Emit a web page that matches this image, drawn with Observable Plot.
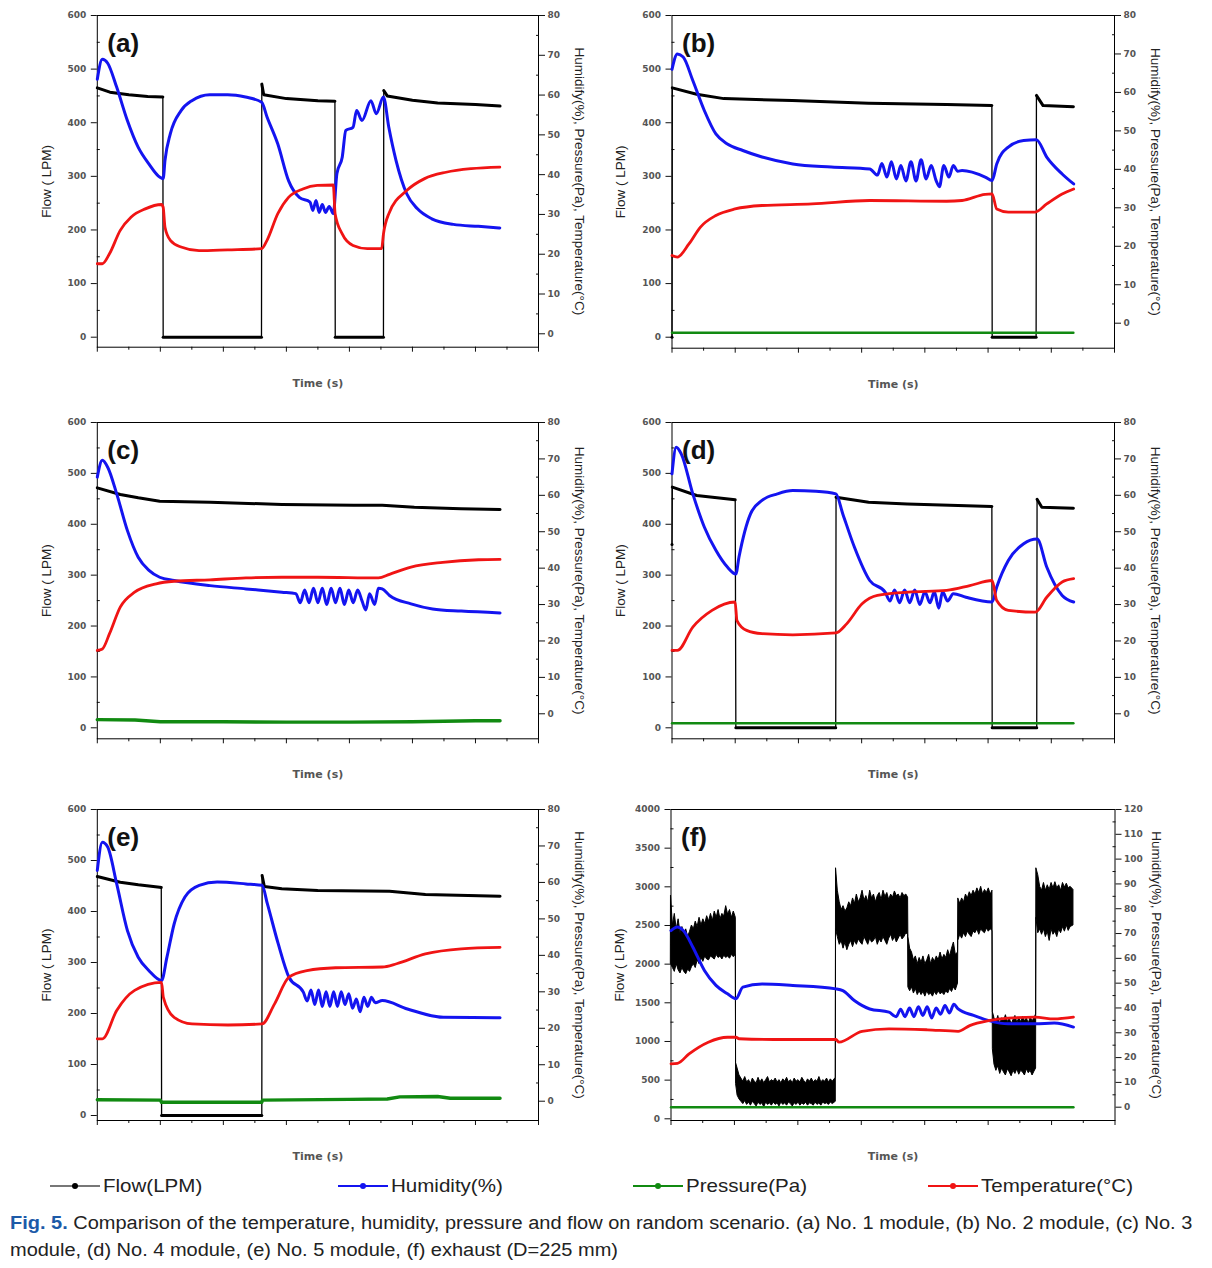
<!DOCTYPE html>
<html><head><meta charset="utf-8">
<script src="https://cdn.jsdelivr.net/npm/d3@7"></script>
<script src="https://cdn.jsdelivr.net/npm/@observablehq/plot@0.6"></script>
<style>
body{margin:0;background:#fff;}
#page{position:relative;width:1212px;height:1268px;font-family:"Liberation Sans",Arial,sans-serif;overflow:hidden;}
.panel{position:absolute;}
.panel svg{position:absolute;left:0;top:0;}
#legend{position:absolute;top:1174px;left:0;width:1212px;height:24px;}
.item{position:absolute;top:0;height:24px;display:flex;align-items:center;font-size:18.5px;color:#222;}
.item span{display:inline-block;transform:scaleX(1.11);transform-origin:left center;}
.sw{position:relative;width:50px;height:2px;margin-right:3px;}
.sw i{position:absolute;left:22px;top:-2px;width:6px;height:6px;border-radius:50%;}
#caption{position:absolute;left:10px;top:1210px;font-size:18px;line-height:27px;color:#222;white-space:nowrap;transform:scaleX(1.11);transform-origin:left top;}
#caption b{color:#1c5aa8;font-weight:bold;}
</style></head>
<body><div id="page"></div>
<script>
// ---------- tick labels ----------
const timeTicks = [0,100,200,300,400,500,600,700];
const flowTicks = [0,100,200,300,400,500,600];
const flowTicksF = [0,500,1000,1500,2000,2500,3000,3500,4000];
const rightTicks = [0,10,20,30,40,50,60,70,80];
const rightTicksF = [0,10,20,30,40,50,60,70,80,90,100,110,120];
const panelLetters = ["(a)","(b)","(c)","(d)","(e)","(f)"];
const seriesNames = ["Flow(LPM)","Humidity(%)","Pressure(Pa)","Temperature(°C)"];
const leftTitle = "Flow ( LPM)";
const rightTitle = "Humidify(%), Pressure(Pa), Temperature(°C)";
const xTitle = "Time (s)";

// ---------- (a) ----------
const aFlow = [[0,465],[20,457],[50,452],[80,449],[104,448],[104.5,0],[260.5,0],[261,472],[264,452],[300,445],[350,441],[377,440],[377.5,0],[454,0],[454.5,460],[460,450],[500,442],[540,437],[600,434],[639,431]];
const aHum = [[0,64],[8,69],[16.5,68],[30.7,62],[47.7,53.6],[64.8,46.9],[81.8,42.7],[98.9,39.4],[104.5,39],[107.4,43.6],[115.9,50.3],[132.9,56.1],[150,58.6],[178.4,60.1],[206.8,60.1],[235.2,59.5],[260.8,58.2],[269.3,54.5],[286.4,47.7],[303.4,38.5],[320.5,34.3],[337.5,33.1],[342,31],[347,33.5],[352,30.5],[357,32.5],[362,30.5],[368,32],[374.4,30.2],[380.1,40.2],[388.6,44.4],[394.3,51.1],[405.7,51.9],[411.4,56.1],[419.9,53.6],[434.1,58.6],[442.6,55.3],[454,59.5],[462.5,51.9],[473.9,43.6],[490.9,35.2],[508,31.4],[530.7,28.9],[564.8,27.5],[604.5,27],[638.6,26.6]];
const aTemp = [[0,17.6],[8,17.6],[19.3,20.1],[36.4,26],[53.4,29.3],[76.1,31.4],[101.7,32.5],[104.5,31.8],[107.4,26.8],[115.9,23.5],[132.9,21.8],[161.4,20.9],[206.8,21.1],[260.8,21.4],[269.3,23.5],[286.4,30.2],[303.4,34.3],[326.1,36.4],[348.9,37.3],[374.4,37.4],[377.3,30.2],[388.6,25.1],[405.7,22.2],[428.4,21.4],[451.1,21.4],[454,25.1],[462.5,30.2],[490.9,36],[519.3,39],[553.4,40.6],[593.2,41.5],[638.6,41.9]];
const aPres = [];

// ---------- (b) ----------
const bFlow = [[0,0],[0.5,465],[39,453],[82,445],[190,441.5],[311,436.5],[434,434],[506,432],[506.5,0],[576,0],[576.5,451],[587,432],[635,430]];
const bHum = [[0,66],[8.5,70],[17.7,69.2],[32.9,63.1],[51.1,55.3],[69.4,49.2],[87.6,46.6],[112,44.9],[142.4,43.2],[191.1,41.4],[252,40.6],[312.8,40.1],[325,38.5],[332,41.5],[340,38],[347,42],[355,37.5],[362,41],[370,37],[378,42],[386,37],[394,42.5],[402,37.5],[410,41],[418,37],[423,35.5],[430,41],[438,38],[445,41],[452,39.5],[458.9,39.7],[495.4,38],[506.4,37.1],[513.7,41.4],[532,45.8],[556.3,47.5],[576.4,47.7],[592.8,43.2],[617.2,38.8],[635.4,36.2]];
const bTemp = [[0,17.6],[8.5,17.2],[26.8,20.6],[45,25],[69.4,28],[99.8,29.7],[142.4,30.6],[221.5,31],[312.8,31.9],[434.5,31.7],[458.9,31.9],[495.4,33.5],[506.4,33.6],[513.7,29.7],[532,28.9],[574.6,28.9],[592.8,31],[617.2,33.6],[635.4,34.9]];
const bPres = [[0,-2.5],[635,-2.5]];

// ---------- (c) ----------
const cFlow = [[0,471.6],[36.4,458.5],[65,452],[99,445.4],[179,443.4],[293,438.9],[407,437.5],[452,437.5],[503,433.6],[577,430.3],[639,429]];
const cHum = [[0,65],[8,69.6],[16.5,67.7],[30.8,60.4],[47.8,50.3],[64.9,43],[82,39.4],[99,37.5],[121.9,36.6],[178.8,35.2],[235.8,34.3],[292.7,33.4],[315,33],[322,30.5],[329,34],[336,30.5],[343,34.5],[350,30.5],[357,34.5],[364,30],[371,34.5],[378,30.5],[385,34.5],[392,30],[399,34],[406,30.5],[413,34],[420,31],[426,28.5],[432,33],[440,30],[446,34.5],[452,34.3],[463.6,32.5],[497.7,30.2],[531.9,28.8],[577.4,28.2],[639,27.7]];
const cTemp = [[0,17.4],[8,17.8],[19.4,22],[36.4,29.3],[59.2,33.4],[93.5,35.7],[121.9,36.4],[178.8,36.8],[235.8,37.3],[292.7,37.5],[349.7,37.5],[446.2,37.3],[463.6,38.3],[497.7,40.3],[548.1,41.6],[605,42.3],[639,42.4]];
const cPres = [[0,-1.6],[60,-1.7],[100,-2.2],[200,-2.2],[300,-2.3],[400,-2.3],[500,-2.2],[600,-1.9],[639,-1.9]];

// ---------- (d) ----------
const dFlow = [[0,360],[0.5,473],[39,456.5],[100,448],[101,0],[259,0],[259.5,453],[311,443.4],[372,440],[506,435],[506.5,0],[577,0],[577.5,449],[585,433.6],[635,431.6]];
const dHum = [[0,65.9],[6.7,73.2],[14.6,71.4],[32.9,60.4],[51.1,51.3],[69.4,44.9],[87.6,40.3],[101,38.4],[105.9,43],[124.2,54.9],[142.4,58.6],[166.8,60.4],[191.1,61.3],[227.6,61.1],[259.3,60.4],[270.2,54.9],[288.5,45.8],[312.8,36.6],[337.2,33.4],[345,31],[352,34],[360,30.5],[368,34],[376,30.5],[384,34],[392,30],[400,33.5],[408,30.5],[415,33.5],[422,29],[428,33.5],[436,31],[445,33],[465,32],[506.4,30.7],[513.7,34.8],[532,42.1],[556.3,46.7],[577.6,48],[592.8,40.3],[617.2,32.5],[635.4,30.7]];
const dTemp = [[0,17.4],[8.5,17.4],[32.9,23.8],[63.3,28.4],[99.8,30.7],[102.8,25.6],[118,22.9],[142.4,22],[191.1,21.7],[259.3,22.2],[276.3,24.7],[300.7,30.2],[325,32.5],[373.7,33.4],[434.6,33.9],[471.1,35.2],[506.4,36.6],[513.7,31.1],[532,28.4],[574.6,27.9],[592.8,32],[617.2,36.2],[635.4,37.1]];
const dPres = [[0,-2.6],[635,-2.6]];

// ---------- (e) ----------
const eFlow = [[0,468.6],[36.4,457.5],[65,452.3],[99,447.7],[101.5,447],[102,0],[261,0],[261.5,470.6],[265,449],[292.7,444.4],[349.7,441.2],[463.6,439.9],[520.5,433.3],[639,430]];
const eHum = [[0,63.3],[8,71],[16.5,69.7],[30.8,59.6],[47.8,46.8],[64.9,39.5],[82,35.8],[101.9,33.1],[110.5,39.5],[121.9,48.6],[139,56],[161.7,59.2],[190.2,60.1],[235.8,59.6],[261.4,59.2],[269.9,54.1],[287,43.2],[304.1,34],[326.9,29.9],[333,27.5],[339,30.5],[345,26.5],[351,30.5],[357,26],[363,30],[369,26],[375,30],[381,26],[387,30],[393,26.5],[399,29.5],[405,25.5],[411,28],[417,24.5],[423,28.5],[429,26],[435,28.5],[441,27],[452.2,27.6],[492,25.3],[549,23],[639,22.9]];
const eTemp = [[0,17.1],[8,17.1],[30.8,24.9],[59.2,30.4],[101.9,32.6],[104.8,28.5],[121.9,23],[150.3,21.2],[207.3,20.9],[261.4,21.2],[281.3,26.7],[304.1,34],[332.6,35.8],[378.1,36.6],[452.2,36.8],[474.9,37.7],[520.5,40.4],[577.4,41.8],[639,42.2]];
const ePres = [[0,0.4],[100,0.3],[102,-0.3],[261,-0.3],[262,0.3],[400,0.5],[460,0.6],[480,1.2],[540,1.3],[560,0.8],[639,0.8]];

// ---------- (f) exhaust: flow band [t, low, high] ----------
const fFlowBand = [
  [0,2000,2880],[3,1950,2500],[6,1900,2650],[9,2000,2450],[12,1920,2580],[15,1880,2400],[18,1950,2480],[21,1900,2380],[24,1870,2450],[27,1930,2350],[30,1900,2420],[33,1960,2500],[36,2000,2450],[39,1950,2550],[42,2050,2480],[45,2000,2600],[48,2080,2500],[51,2030,2580],[54,2100,2520],[57,2060,2620],[60,2050,2550],[63,2100,2650],[66,2080,2560],[69,2060,2680],[72,2120,2600],[75,2080,2700],[78,2100,2580],[81,2060,2650],[84,2110,2620],[87,2080,2750],[90,2100,2640],[93,2070,2700],[96,2120,2600],[99,2090,2680],[102.2,2120,2600],
  [102.6,450,720],[105,300,650],[108,250,560],[111,220,520],[114,190,480],[117,230,540],[120,180,470],[123,210,500],[126,170,450],[129,220,520],[132,190,480],[135,160,460],[138,210,530],[141,180,470],[144,200,510],[147,150,460],[150,210,500],[153,180,540],[156,200,470],[159,170,500],[162,210,480],[165,180,520],[168,200,470],[171,160,500],[174,210,460],[177,180,510],[180,200,480],[183,170,530],[186,210,470],[189,190,500],[192,160,460],[195,200,520],[198,180,480],[201,210,500],[204,170,470],[207,200,530],[210,180,490],[213,210,460],[216,170,510],[219,200,480],[222,190,520],[225,170,470],[228,210,500],[231,180,480],[234,200,540],[237,170,470],[240,210,500],[243,190,480],[246,200,520],[249,180,470],[252,210,510],[255,190,480],[259.8,220,530],
  [260.2,2450,3240],[263,2350,2950],[266,2250,2800],[269,2300,2700],[272,2200,2750],[275,2280,2680],[278,2180,2720],[281,2250,2800],[284,2300,2750],[287,2220,2850],[290,2300,2780],[293,2250,2900],[296,2320,2800],[299,2280,2850],[302,2250,2950],[305,2350,2820],[308,2300,2880],[311,2250,2800],[314,2330,2950],[317,2280,2850],[320,2300,2900],[323,2350,2800],[326,2250,2880],[329,2320,2920],[332,2280,2830],[335,2350,2950],[338,2300,2870],[341,2250,2920],[344,2330,2830],[347,2380,2900],[350,2300,2860],[353,2350,2940],[356,2280,2880],[359,2330,2900],[362,2380,2850],[365,2320,2920],[368,2350,2880],[371,2400,2900],[373.8,2380,2860],
  [374.2,1700,2350],[377,1650,2200],[380,1700,2150],[383,1620,2050],[386,1680,2100],[389,1600,2000],[392,1650,2080],[395,1600,2020],[398,1640,2100],[401,1580,2000],[404,1650,2050],[407,1600,2120],[410,1620,2000],[413,1580,2080],[416,1640,2030],[419,1600,2100],[422,1650,2050],[425,1610,2150],[428,1630,2060],[431,1600,2120],[434,1650,2080],[437,1620,2180],[440,1680,2100],[443,1640,2200],[446,1700,2280],[449,1660,2120],[452.5,1750,2150],
  [452.9,2300,2850],[456,2380,2780],[459,2330,2850],[462,2400,2800],[465,2350,2900],[468,2420,2850],[471,2380,2930],[474,2350,2880],[477,2420,2950],[480,2400,2900],[483,2450,2980],[486,2380,2920],[489,2450,3000],[492,2420,2900],[495,2400,2960],[498,2460,2920],[501,2420,2980],[504,2450,2900],[506.8,2430,2950],
  [507.4,900,1380],[510,700,1300],[513,620,1250],[516,680,1330],[519,580,1220],[522,650,1300],[525,600,1260],[528,560,1340],[531,640,1250],[534,600,1300],[537,550,1220],[540,620,1280],[543,580,1330],[546,640,1240],[549,570,1300],[552,620,1250],[555,600,1320],[558,560,1260],[561,640,1300],[564,590,1230],[567,620,1310],[570,560,1260],[573,610,1300],[575.6,650,1350],
  [576,2600,3240],[579,2400,3150],[582,2450,3000],[585,2380,2950],[588,2450,3050],[591,2350,2950],[594,2420,3020],[597,2300,2960],[600,2450,3050],[603,2380,2980],[606,2420,3060],[609,2350,2980],[612,2450,3020],[615,2400,2950],[618,2480,3050],[621,2420,2990],[624,2500,3040],[627,2430,2980],[630,2480,3000],[634.5,2500,2960]];
const fHum = [[0,71.2],[10.3,72.6],[19.4,71.2],[34.5,64.5],[52.7,55.1],[70.9,49.1],[89.1,45.7],[102.4,43.7],[113.3,48.4],[143.6,49.7],[192.1,49.1],[260,47.7],[270.9,47],[289,43],[313.3,39.6],[343.6,38.3],[355,36.5],[362,39.5],[369,36.5],[376,40],[383,36.5],[390,40.5],[397,37],[404,40.5],[411,36],[418,40],[425,37.5],[432,41],[439,38],[446,41.5],[452.7,39.6],[477,37],[501.2,34.9],[531.5,33.6],[573.9,33.6],[604.2,33.9],[634.5,32.3]];
const fTemp = [[0,17.5],[10.3,17.7],[28.5,21.5],[58.8,26.2],[89.1,28.2],[102.4,28.2],[107.3,27.6],[161.8,27.3],[260,27.3],[264.8,26.2],[301.2,30.6],[343.6,31.6],[404.2,31.2],[452.7,30.6],[470.9,32.9],[501.2,34.9],[531.5,35.9],[573.9,36.3],[604.2,35.6],[634.5,36.3]];
const fPres = [[0,0],[634.5,0]];

// ---------- styling ----------
const COL = {flow:"#000000", hum:"#1414f0", pres:"#118a11", temp:"#f01414"};
const minorOf = (ticks) => ticks.slice(0,-1).map((v,i)=>(v+ticks[i+1])/2);
const plain = d => String(d);
const tickText = {fill:"#555", fontWeight:"bold"};

const panels = [
  {left:0,   top:0,   width:600, height:400, mL:96.8, mR:62,  mT:15, mB:53.3, yL:[-18.65,600], yR:[-3.37,80], lt:flowTicks, rt:rightTicks, flow:aFlow, hum:aHum, temp:aTemp, pres:aPres},
  {left:600, top:0,   width:612, height:400, mL:71.5, mR:98,  mT:15, mB:52.3, yL:[-20.5,600],  yR:[-6.5,80],  lt:flowTicks, rt:rightTicks, flow:bFlow, hum:bHum, temp:bTemp, pres:bPres},
  {left:0,   top:400, width:600, height:390, mL:96.8, mR:62,  mT:22, mB:51.7, yL:[-21.6,600],  yR:[-6.87,80], lt:flowTicks, rt:rightTicks, flow:cFlow, hum:cHum, temp:cTemp, pres:cPres, presW:3.4},
  {left:600, top:400, width:612, height:390, mL:71.5, mR:98,  mT:22, mB:51.7, yL:[-21.6,600],  yR:[-6.87,80], lt:flowTicks, rt:rightTicks, flow:dFlow, hum:dHum, temp:dTemp, pres:dPres},
  {left:0,   top:790, width:600, height:375, mL:96.8, mR:62,  mT:19, mB:45,   yL:[-9.8,600],   yR:[-5.29,80], lt:flowTicks, rt:rightTicks, flow:eFlow, hum:eHum, temp:eTemp, pres:ePres, presW:3.4},
  {left:600, top:790, width:612, height:375, mL:70.5, mR:97.5,mT:19, mB:45,   yL:[-22,4000],   yR:[-5.36,120],lt:flowTicksF, rt:rightTicksF, band:fFlowBand, hum:fHum, temp:fTemp, pres:fPres}
];

function withSegments(arr){
  let s = 0;
  return arr.map((d,i)=>{ if(i>0 && Math.abs(d[1]-arr[i-1][1])>100) s++; return {t:d[0], v:d[1], s}; });
}

const page = document.getElementById("page");
panels.forEach((cfg, k) => {
  const div = document.createElement("div");
  div.className = "panel";
  Object.assign(div.style, {left:cfg.left+"px", top:cfg.top+"px", width:cfg.width+"px", height:cfg.height+"px"});
  const common = {
    width: cfg.width, height: cfg.height,
    marginLeft: cfg.mL, marginRight: cfg.mR, marginTop: cfg.mT, marginBottom: cfg.mB,
    style: {background:"transparent", fontFamily:"DejaVu Sans, sans-serif", fontSize:"9px", color:"#111", overflow:"visible"}
  };
  const flowMarks = [];
  if (cfg.flow) {
    const fd = withSegments(cfg.flow);
    flowMarks.push(Plot.line(fd, {x:"t", y:"v", stroke:COL.flow, strokeWidth:1.3}));
    flowMarks.push(Plot.line(fd, {x:"t", y:"v", z:"s", stroke:COL.flow, strokeWidth:3}));
  }
  if (cfg.band) {
    flowMarks.push(Plot.areaY(cfg.band, {x:d=>d[0], y1:d=>d[1], y2:d=>d[2], fill:COL.flow, stroke:COL.flow, strokeWidth:1}));
  }
  const p1 = Plot.plot({
    ...common,
    x: {domain:[0,700], axis:null},
    y: {domain: cfg.yL, axis:null},
    marks: [
      Plot.axisX({ticks: timeTicks, tickSize:5, tickFormat:()=>"", label:null}),
      Plot.axisX({ticks: minorOf(timeTicks), tickSize:3, tickFormat:()=>"", label:null}),
      Plot.axisY({anchor:"left", ticks: cfg.lt, tickSize:6, tickPadding:5, tickFormat:plain, label:null, ...tickText}),
      Plot.axisY({anchor:"left", ticks: minorOf(cfg.lt), tickSize:-3, tickFormat:()=>"", label:null}),
      ...flowMarks,
      Plot.frame({stroke:"#000", strokeWidth:1}),
      Plot.text([panelLetters[k]], {frameAnchor:"top-left", dx:10, dy:28, textAnchor:"start", lineAnchor:"middle", fontSize:26, fontWeight:"bold", fontFamily:"Liberation Sans, Arial, sans-serif", fill:"#111"}),
      Plot.text([leftTitle], {frameAnchor:"left", dx:-51, rotate:-90, textAnchor:"middle", lineAnchor:"middle", fontSize:13.5, fontFamily:"Liberation Sans, Arial, sans-serif", fill:"#222"}),
      Plot.text([xTitle], {frameAnchor:"bottom", dy:36, textAnchor:"middle", lineAnchor:"middle", fontSize:11, fontWeight:"bold", fontFamily:"DejaVu Sans, sans-serif", fill:"#555"})
    ]
  });
  const p2 = Plot.plot({
    ...common,
    x: {domain:[0,700], axis:null},
    y: {domain: cfg.yR, axis:null},
    marks: [
      Plot.axisY({anchor:"right", ticks: cfg.rt, tickSize:6, tickPadding:3, tickFormat:plain, label:null, ...tickText}),
      Plot.axisY({anchor:"right", ticks: minorOf(cfg.rt), tickSize:-3, tickFormat:()=>"", label:null}),
      Plot.line(cfg.hum, {x:d=>d[0], y:d=>d[1], stroke:COL.hum, strokeWidth:3, curve:"monotone-x"}),
      Plot.line(cfg.pres, {x:d=>d[0], y:d=>d[1], stroke:COL.pres, strokeWidth:cfg.presW || 2.4}),
      Plot.line(cfg.temp, {x:d=>d[0], y:d=>d[1], stroke:COL.temp, strokeWidth:2.8, curve:"monotone-x"}),
      Plot.text([rightTitle], {frameAnchor:"right", dx:41, rotate:90, textAnchor:"middle", lineAnchor:"middle", fontSize:13.5, fontFamily:"Liberation Sans, Arial, sans-serif", fill:"#222"})
    ]
  });
  div.appendChild(p1);
  div.appendChild(p2);
  page.appendChild(div);
});

// ---------- legend ----------
const legend = document.createElement("div");
legend.id = "legend";
const legendPos = [50, 338, 633, 928];
const legendCol = [["#777","#000"],[COL.hum,COL.hum],[COL.pres,COL.pres],[COL.temp,COL.temp]];
seriesNames.forEach((name,i)=>{
  const it = document.createElement("div");
  it.className = "item";
  it.style.left = legendPos[i]+"px";
  const sw = document.createElement("div");
  sw.className = "sw";
  sw.style.background = legendCol[i][0];
  const dot = document.createElement("i");
  dot.style.background = legendCol[i][1];
  sw.appendChild(dot);
  it.appendChild(sw);
  const tx = document.createElement("span");
  tx.textContent = name;
  it.appendChild(tx);
  legend.appendChild(it);
});
page.appendChild(legend);

// ---------- caption ----------
const cap = document.createElement("div");
cap.id = "caption";
cap.innerHTML = "<b>Fig. 5.</b> Comparison of the temperature, humidity, pressure and flow on random scenario. (a) No. 1 module, (b) No. 2 module, (c) No. 3<br>module, (d) No. 4 module, (e) No. 5 module, (f) exhaust (D=225 mm)";
page.appendChild(cap);
</script>
</body></html>
